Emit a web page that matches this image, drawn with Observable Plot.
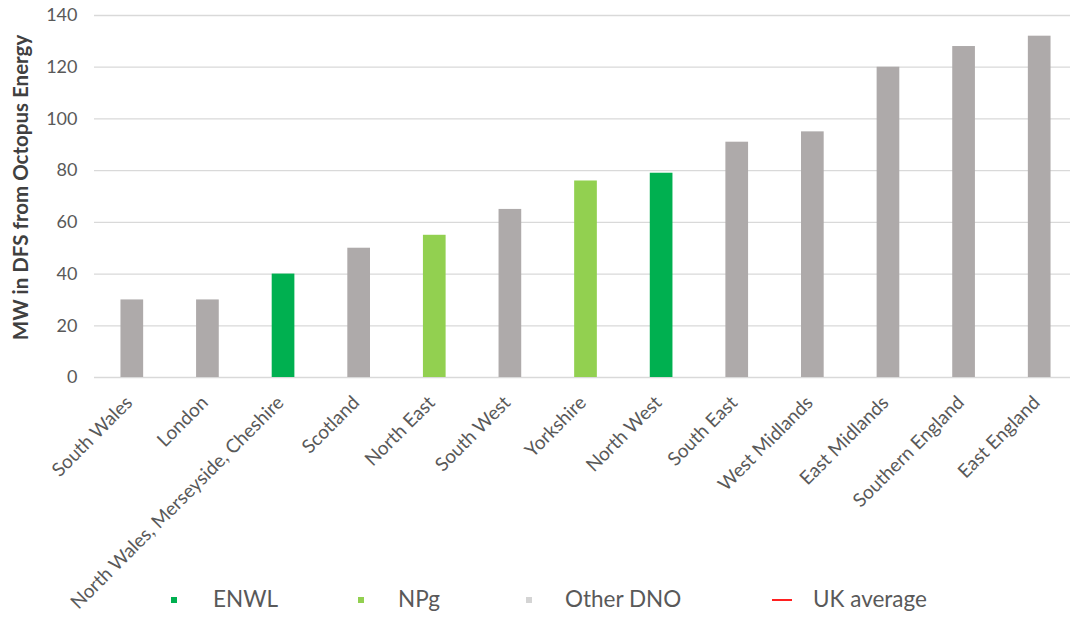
<!DOCTYPE html>
<html>
<head>
<meta charset="utf-8">
<script src="https://cdn.jsdelivr.net/npm/d3@7"></script>
<script src="https://cdn.jsdelivr.net/npm/@observablehq/plot@0.6"></script>
<style>
  body { margin: 0; background: #fff; }
  #chart { position: relative; width: 1070px; height: 619px; overflow: hidden; font-family: Lato, sans-serif; }
  #chart svg { display: block; overflow: visible; }
  .legend { position: absolute; left: 0; top: 588px; width: 1070px; height: 24px; color: #595959; font-size: 22.5px; }
  .legend .sw { position: absolute; top: 9px; width: 6px; height: 6px; }
  .legend .ln { position: absolute; top: 11px; width: 20px; height: 2px; }
  .legend .lb { position: absolute; top: -1px; line-height: 24px; white-space: nowrap; }
</style>
</head>
<body>
<div id="chart"></div>
<script>
// Regions ordered by MW delivered in the Demand Flexibility Service
const regions = [
  "South Wales", "London", "North Wales, Merseyside, Cheshire", "Scotland",
  "North East", "South West", "Yorkshire", "North West", "South East",
  "West Midlands", "East Midlands", "Southern England", "East England"
];
const mw = [30, 30, 40, 50, 55, 65, 76, 79, 91, 95, 120, 128, 132];
const operator = [
  "Other DNO", "Other DNO", "ENWL", "Other DNO", "NPg", "Other DNO", "NPg",
  "ENWL", "Other DNO", "Other DNO", "Other DNO", "Other DNO", "Other DNO"
];
const yTicks = [0, 20, 40, 60, 80, 100, 120, 140];
const yTitle = "MW in DFS from Octopus Energy";

// Legend entries
const legendLabels = ["ENWL", "NPg", "Other DNO", "UK average"];
const legendColors = ["#00b050", "#92d050", "#d4d4d4", "#ff2020"];
const legendKinds = ["square", "square", "square", "line"];

const barColors = { domain: ["ENWL", "NPg", "Other DNO"], range: ["#00b050", "#92d050", "#aeaaaa"] };

const data = regions.map((region, i) => ({ region, mw: mw[i], dno: operator[i] }));

const chart = Plot.plot({
  width: 1070,
  height: 590,
  marginLeft: 94,
  marginRight: 0,
  marginTop: 15,
  marginBottom: 213,
  style: { fontFamily: "Lato, sans-serif", color: "#595959", background: "#fff", overflow: "visible" },
  x: { domain: regions, range: [94, 1077], paddingInner: 0.7, paddingOuter: 0.35, round: false },
  y: { domain: [0, 140] },
  color: barColors,
  marks: [
    Plot.ruleY(yTicks, { stroke: "#d9d9d9", strokeWidth: 1.3 }),
    Plot.barY(data, { x: "region", y: "mw", fill: "dno" }),
    Plot.axisY(yTicks, { tickSize: 0, tickPadding: 17, fontSize: 18, label: null, fill: "#595959" }),
    Plot.axisX({ tickSize: 0, tickRotate: -45, tickPadding: 22, dx: -3, fontSize: 19, label: null, fill: "#595959" }),
    Plot.text([yTitle], {
      frameAnchor: "left", textAnchor: "middle", rotate: -90, dx: -73, dy: -9,
      fontSize: 20.5, fontWeight: "bold", fill: "#404040"
    })
  ]
});

const root = document.getElementById("chart");
root.appendChild(chart);

// Legend row below the plot
const legendX = [174, 361, 529, 782];
const labelX = [213, 398, 565, 813];
const legend = document.createElement("div");
legend.className = "legend";
legendLabels.forEach((label, i) => {
  const key = document.createElement("div");
  key.className = legendKinds[i] === "line" ? "ln" : "sw";
  const w = legendKinds[i] === "line" ? 20 : 6;
  key.style.left = (legendX[i] - w / 2) + "px";
  key.style.background = legendColors[i];
  legend.appendChild(key);
  const text = document.createElement("div");
  text.className = "lb";
  text.style.left = labelX[i] + "px";
  text.textContent = label;
  legend.appendChild(text);
});
root.appendChild(legend);
</script>
</body>
</html>
